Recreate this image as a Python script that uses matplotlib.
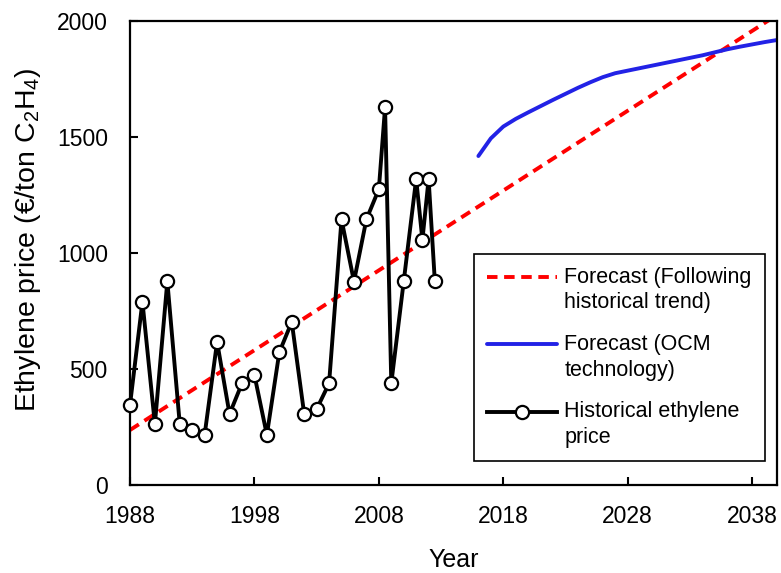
import numpy as np
import matplotlib
matplotlib.use("Agg")
import matplotlib.pyplot as plt
from matplotlib.legend_handler import HandlerLine2D
from matplotlib.lines import Line2D

plt.rcParams["font.family"] = ["Liberation Sans", "DejaVu Sans"]
plt.rcParams["mathtext.default"] = "regular"

# Historical ethylene price (EUR per ton C2H4)
hist_years = [1988, 1989, 1990, 1991, 1992, 1993, 1994, 1995, 1996, 1997,
              1998, 1999, 2000, 2001, 2002, 2003, 2004, 2005, 2006, 2007,
              2008, 2008.5, 2009, 2010, 2011, 2011.5, 2012, 2012.5]
hist_price = [345, 790, 262, 878, 262, 238, 217, 617, 306, 438,
              474, 216, 572, 703, 306, 327, 438, 1145, 877, 1145,
              1275, 1628, 438, 878, 1319, 1056, 1319, 878]

# Forecast following the historical linear trend
trend_years = [1988, 2040]
trend_price = [237, 2026]

# Forecast with OCM technology
ocm_years = [2016, 2017, 2018, 2019, 2020, 2021, 2022, 2023, 2024, 2025,
             2026, 2027, 2028, 2029, 2030, 2031, 2032, 2033, 2034, 2035,
             2036, 2037, 2038, 2039, 2040]
ocm_price = [1418, 1494, 1545, 1578, 1606, 1633, 1660, 1686, 1712, 1736,
             1758, 1775, 1786, 1797, 1808, 1819, 1830, 1841, 1852, 1865,
             1878, 1889, 1899, 1909, 1918]

x_ticks = [1988, 1998, 2008, 2018, 2028, 2038]
y_ticks = [0, 500, 1000, 1500, 2000]


class FirstLineHandler(HandlerLine2D):
    """Place the legend handle beside the first line of a two-line label."""

    def create_artists(self, legend, orig_handle, xdescent, ydescent,
                       width, height, fontsize, trans):
        artists = super().create_artists(legend, orig_handle, xdescent,
                                         ydescent, width, height,
                                         fontsize, trans)
        shift = 0.625 * fontsize
        for a in artists:
            if isinstance(a, Line2D):
                a.set_ydata(np.asarray(a.get_ydata(), dtype=float) + shift)
        return artists


fig = plt.figure(figsize=(7.81, 5.73), dpi=100)
ax = fig.add_axes([130 / 781, 1 - 485 / 573, 647 / 781, 464 / 573])

red, = ax.plot(trend_years, trend_price, color="#FF0000", lw=2.8,
               linestyle=(0, (2.7, 1.7)), dash_capstyle="butt",
               label="Forecast (Following\nhistorical trend)", zorder=2)
blue, = ax.plot(ocm_years, ocm_price, color="#2222E6", lw=2.8,
                solid_capstyle="round",
                label="Forecast (OCM\ntechnology)", zorder=2)
black, = ax.plot(hist_years, hist_price, color="black", lw=2.8,
                 marker="o", markersize=9.5, markerfacecolor="white",
                 markeredgecolor="black", markeredgewidth=1.6,
                 label="Historical ethylene\nprice", zorder=4, clip_on=False)

ax.set_xlim(1988, 2040)
ax.set_ylim(0, 2000)
ax.set_xticks(x_ticks)
ax.set_yticks(y_ticks)
ax.tick_params(direction="in", length=6, width=1.5, labelsize=16.5)
ax.tick_params(axis="x", pad=14.5)
ax.tick_params(axis="y", pad=16)
for s in ax.spines.values():
    s.set_linewidth(1.6)

ax.set_xlabel("Year", fontsize=18, labelpad=14)
ax.set_ylabel("Ethylene price (€/ton C$_2$H$_4$)", fontsize=20.5)
ax.yaxis.set_label_coords(-0.135, 0.528)

handler = FirstLineHandler()
leg = ax.legend(handles=[red, blue, black], loc="lower right",
                bbox_to_anchor=(0.981, 0.052), borderaxespad=0,
                fontsize=15.5, frameon=True, fancybox=False, framealpha=1,
                edgecolor="black", handlelength=3.25, handletextpad=0.35,
                borderpad=0.6, labelspacing=0.95, numpoints=1,
                handler_map={Line2D: handler})
for t in leg.get_texts():
    t.set_linespacing(1.3)
leg.get_frame().set_linewidth(1.2)

fig.savefig("out.png", dpi=100)
